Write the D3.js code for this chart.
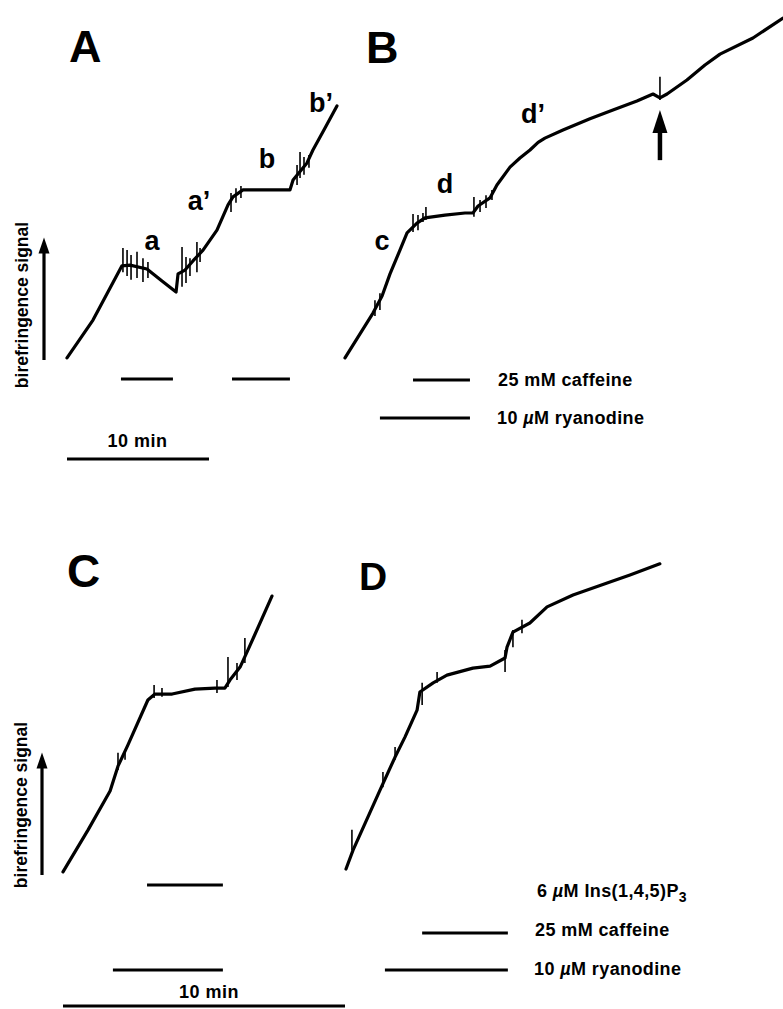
<!DOCTYPE html>
<html lang="en">
<head>
<meta charset="utf-8">
<style>
  body { margin: 0; background: #fff; }
  svg { display: block; }
  text { font-family: "Liberation Sans", Arial, Helvetica, sans-serif; font-weight: bold; fill: #000; }
</style>
</head>
<body>
<div id="fig"></div>
<script src="https://d3js.org/d3.v7.min.js"></script>
<script>
// traces: [time (min), birefringence signal (arb. units)]
var traceA = [[0, 0.6], [1.83, 11.4], [3.87, 26.9], [4.44, 27.1], [5.63, 26.0], [6.69, 22.6], [7.68, 19.4],
  [7.82, 24.6], [8.31, 25.7], [8.87, 28.3], [9.58, 31.4], [10.56, 37.1], [11.34, 44.3], [11.69, 46.6],
  [12.39, 48.6], [13.59, 48.6], [15.70, 48.6], [15.92, 51.4], [16.90, 56.3], [17.32, 60.0], [18.17, 66.3], [19.01, 72.6]];
var traceB = [[0, 0.6], [1.97, 13.4], [2.61, 18.3], [3.17, 24.6], [3.87, 31.4], [4.37, 36.3], [5.07, 39.1],
  [5.63, 40.6], [7.04, 41.4], [8.45, 42.0], [9.01, 42.0], [9.37, 44.0], [10.21, 46.3], [10.70, 50.0],
  [11.62, 55.1], [12.32, 57.7], [13.03, 60.0], [13.60, 62.2], [14.08, 63.4], [15.35, 65.7], [17.25, 68.9], [18.87, 71.4],
  [20.56, 74.0], [21.69, 76.0], [22.18, 74.9], [22.68, 76.0], [24.08, 80.0], [25.35, 84.3], [26.41, 87.4],
  [28.73, 92.0], [30.85, 97.7]];
var traceC = [[0, 0.9], [0.89, 12.9], [1.67, 24.0], [1.95, 31.1], [2.30, 37.1], [3.01, 50.0], [3.26, 51.7],
  [3.87, 51.7], [4.68, 53.1], [5.39, 53.4], [5.74, 53.4], [5.92, 55.7], [6.28, 59.4], [6.56, 64.3], [7.41, 79.7]];
var traceD = [[0, 1.7], [0.25, 7.1], [1.21, 24.3], [1.74, 33.7], [2.09, 39.4], [2.52, 47.1], [2.62, 52.3],
  [3.09, 54.9], [3.58, 57.1], [4.50, 59.1], [5.11, 59.7], [5.64, 62.0], [5.71, 65.1], [5.92, 69.4],
  [6.52, 72.0], [7.13, 76.6], [8.05, 80.0], [9.26, 83.4], [10.07, 85.7], [11.13, 88.9]];

// noise spikes: [time, low, high]
var spikesA = [[3.94, 25.1, 32.0], [4.23, 24.0, 31.4], [4.51, 22.9, 30.0], [4.93, 23.4, 30.9], [5.35, 22.3, 29.1],
  [5.70, 23.4, 28.0], [8.10, 20.9, 32.3], [8.38, 22.0, 29.4], [8.66, 24.0, 29.1], [9.15, 25.1, 33.7],
  [9.37, 28.0, 32.0], [11.55, 42.3, 47.7], [11.90, 44.9, 49.1], [12.25, 46.3, 49.7], [16.20, 50.0, 55.7],
  [16.41, 52.0, 59.4], [16.69, 52.9, 58.0], [17.04, 54.9, 58.6]];
var spikesB = [[2.11, 12.6, 17.1], [2.46, 14.3, 19.1], [4.79, 36.6, 41.7], [5.14, 37.1, 41.4], [5.49, 39.4, 42.0],
  [5.70, 40.0, 43.7], [9.08, 40.9, 46.6], [9.51, 42.3, 45.7], [9.93, 43.4, 47.1], [10.35, 45.7, 48.6],
  [22.18, 74.3, 80.9]];
var spikesC = [[1.95, 30.0, 34.9], [2.20, 32.9, 35.7], [3.23, 50.6, 54.3], [3.51, 50.9, 53.4], [5.46, 52.0, 55.7],
  [5.85, 53.7, 62.3], [6.17, 55.7, 60.6], [6.45, 60.6, 67.7]];
var spikesD = [[0.21, 7.1, 12.9], [1.31, 25.1, 29.4], [1.74, 32.9, 36.6], [2.70, 48.6, 54.9], [3.23, 54.9, 58.0],
  [5.64, 58.0, 64.3], [5.92, 65.1, 70.0], [6.24, 69.1, 72.9]];

// trace labels: [time, signal, text]
var labelsA = [[5.99, 31.4, "a"], [9.30, 42.9, "a\u2019"], [14.08, 54.9, "b"], [17.89, 70.9, "b\u2019"]];
var labelsB = [[2.61, 31.4, "c"], [7.04, 47.7, "d"], [13.24, 67.7, "d\u2019"]];

// drug application bars: [start, end] in min
var caffeineA = [[3.80, 7.46], [11.62, 15.70]];
var caffeineB = [4.79, 8.80];
var ryanodineB = [2.46, 8.80];
var insp3C = [2.98, 5.67];
var ryanodineC = [1.77, 5.67];
var caffeineD = [2.70, 5.74];
var ryanodineD = [1.38, 5.74];
var arrowB = [22.18, 57.1, 71.4]; // time, bottom, tip
var axisArrow = [0, 35];
var scaleMin = 10;

var svg = d3.select("#fig").append("svg").attr("width", 783).attr("height", 1009);

var yTop = d3.scaleLinear().domain([0, 100]).range([360, 10]);
var yBot = d3.scaleLinear().domain([0, 100]).range([875, 525]);
var xA = d3.scaleLinear().domain([0, 10]).range([67, 209]);
var xB = d3.scaleLinear().domain([0, 10]).range([345, 487]);
var xC = d3.scaleLinear().domain([0, 10]).range([63, 345]);
var xD = d3.scaleLinear().domain([0, 10]).range([346, 628]);

function drawTrace(trace, spikes, x, y) {
  var line = d3.line().x(function (d) { return x(d[0]) }).y(function (d) { return y(d[1]) });
  svg.append("path").attr("d", line(trace))
    .attr("fill", "none").attr("stroke", "#000").attr("stroke-width", 3.2)
    .attr("stroke-linejoin", "round").attr("stroke-linecap", "round");
  svg.append("g").selectAll("line").data(spikes).enter().append("line")
    .attr("x1", function (d) { return x(d[0]) }).attr("x2", function (d) { return x(d[0]) })
    .attr("y1", function (d) { return y(d[1]) }).attr("y2", function (d) { return y(d[2]) })
    .attr("stroke", "#000").attr("stroke-width", 1.6);
}

function bar(x, span, yPos) {
  svg.append("line").attr("x1", x(span[0])).attr("x2", x(span[1]))
    .attr("y1", yPos).attr("y2", yPos).attr("stroke", "#000").attr("stroke-width", 3);
}

function panelLetter(txt, px, py, size) {
  svg.append("text").attr("x", px).attr("y", py).style("font-size", size + "px").text(txt);
}

function yAxisArrow(x0, y, cx, labelY) {
  var b = y(axisArrow[0]), t = y(axisArrow[1]);
  svg.append("line").attr("x1", x0).attr("x2", x0).attr("y1", b).attr("y2", t + 12)
    .attr("stroke", "#000").attr("stroke-width", 3.2);
  svg.append("path").attr("d", "M" + (x0 - 5.5) + "," + (t + 16) + "L" + x0 + "," + t + "L" + (x0 + 5.5) + "," + (t + 16) + "Z")
    .attr("fill", "#000");
  svg.append("text").attr("transform", "translate(" + cx + "," + labelY + ") rotate(-90)")
    .attr("text-anchor", "middle").style("font-size", "17.5px").text("birefringence signal");
}

function legendText(px, py, parts) {
  var t = svg.append("text").attr("x", px).attr("y", py).style("font-size", "18px").style("letter-spacing", "0.4px");
  parts.forEach(function (p) {
    var s = t.append("tspan").text(p.t);
    if (p.it) s.style("font-style", "italic");
    if (p.sub) s.attr("dy", 5).style("font-size", "14px");
  });
}

// ---- panel A
panelLetter("A", 69, 62, 45);
drawTrace(traceA, spikesA, xA, yTop);
svg.append("g").selectAll("text").data(labelsA).enter().append("text")
  .attr("x", function (d) { return xA(d[0]) }).attr("y", function (d) { return yTop(d[1]) })
  .attr("text-anchor", "middle").style("font-size", "27px").text(function (d) { return d[2] });
caffeineA.forEach(function (s) { bar(xA, s, 379) });
yAxisArrow(44, yTop, 28, 305);
bar(xA, [0, scaleMin], 459);
svg.append("text").attr("x", xA(scaleMin / 2) - 0.5).attr("y", 447).attr("text-anchor", "middle")
  .style("font-size", "18px").style("letter-spacing", "0.5px").text("10 min");

// ---- panel B
panelLetter("B", 366, 63, 45);
drawTrace(traceB, spikesB, xB, yTop);
svg.append("g").selectAll("text").data(labelsB).enter().append("text")
  .attr("x", function (d) { return xB(d[0]) }).attr("y", function (d) { return yTop(d[1]) })
  .attr("text-anchor", "middle").style("font-size", "27px").text(function (d) { return d[2] });
var ax = xB(arrowB[0]), ab = yTop(arrowB[1]), at = yTop(arrowB[2]);
svg.append("line").attr("x1", ax).attr("x2", ax).attr("y1", ab).attr("y2", at + 20)
  .attr("stroke", "#000").attr("stroke-width", 4.5);
svg.append("path").attr("d", "M" + (ax - 7.5) + "," + (at + 23) + "L" + ax + "," + at + "L" + (ax + 7.5) + "," + (at + 23) + "Z")
  .attr("fill", "#000");
bar(xB, caffeineB, 380);
bar(xB, ryanodineB, 418);
legendText(498, 386, [{ t: "25 mM caffeine" }]);
legendText(497, 424, [{ t: "10 " }, { t: "\u00b5", it: true }, { t: "M ryanodine" }]);

// ---- panel C
panelLetter("C", 67, 587, 46);
drawTrace(traceC, spikesC, xC, yBot);
yAxisArrow(42, yBot, 27, 805);
bar(xC, insp3C, 885);
bar(xC, ryanodineC, 970);
bar(xC, [0, scaleMin], 1006);
svg.append("text").attr("x", xC(scaleMin / 2) + 5).attr("y", 998).attr("text-anchor", "middle")
  .style("font-size", "18px").style("letter-spacing", "0.5px").text("10 min");

// ---- panel D
panelLetter("D", 359, 590, 39);
drawTrace(traceD, spikesD, xD, yBot);
legendText(537, 897, [{ t: "6 " }, { t: "\u00b5", it: true }, { t: "M Ins(1,4,5)P" }, { t: "3", sub: true }]);
bar(xD, caffeineD, 933);
bar(xD, ryanodineD, 970);
legendText(535, 936, [{ t: "25 mM caffeine" }]);
legendText(534, 975, [{ t: "10 " }, { t: "\u00b5", it: true }, { t: "M ryanodine" }]);
</script>
</body>
</html>
